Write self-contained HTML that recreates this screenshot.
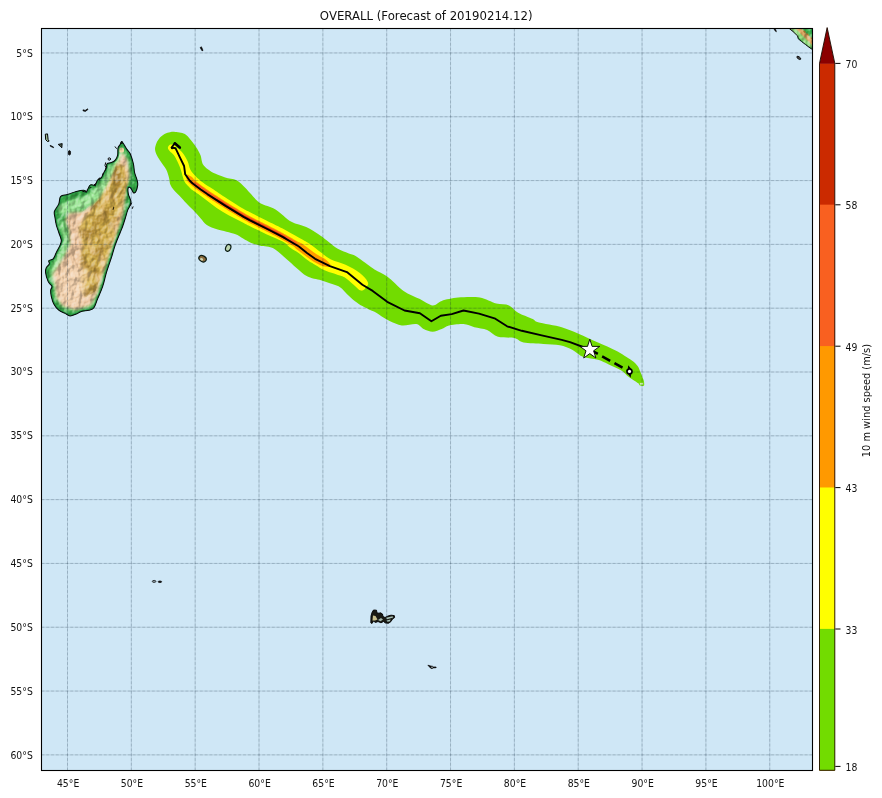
<!DOCTYPE html>
<html lang="en"><head><meta charset="utf-8"><title>OVERALL (Forecast of 20190214.12)</title>
<style>
html,body{margin:0;padding:0;background:#fff;}
body{width:882px;height:798px;overflow:hidden;}
svg{display:block;}
text{font-family:"DejaVu Sans","Liberation Sans",sans-serif;fill:#111;}
.tk{font-size:9.72px;}
.tt{font-size:11.73px;}
</style></head><body>
<svg width="882" height="798" viewBox="0 0 882 798">
<defs>
<clipPath id="axclip"><rect x="41.5" y="28.5" width="771.0" height="742.0"/></clipPath>
<clipPath id="madaclip"><path d="M122.1,141.9C123.2,142.6 125.2,146.8 126.5,148.8C127.8,150.8 129.0,151.3 130.2,153.8C131.3,156.3 132.7,160.7 133.4,163.8C134.1,166.9 134.0,169.9 134.6,172.6C135.2,175.3 136.6,178.0 137.1,180.1C137.6,182.2 137.9,183.2 137.7,185.1C137.5,187.0 136.6,190.1 135.9,191.4C135.2,192.7 134.2,193.2 133.4,192.7C132.6,192.2 131.8,189.2 130.9,188.3C130.1,187.5 128.7,186.7 128.3,187.6C127.9,188.5 127.9,191.6 128.3,193.9C128.7,196.2 130.7,199.3 130.9,201.4C131.1,203.5 130.1,204.9 129.6,206.4C129.1,207.9 128.4,208.2 127.7,210.2C127.0,212.2 126.0,215.9 125.2,218.5C124.4,221.1 123.6,223.7 122.8,226.0C122.0,228.3 121.5,229.3 120.2,232.5C118.9,235.7 116.7,240.9 115.2,245.1C113.7,249.3 112.9,253.0 111.4,257.6C109.9,262.2 107.9,267.8 106.4,272.6C105.0,277.4 104.2,282.0 102.7,286.4C101.2,290.8 99.1,295.3 97.6,298.9C96.1,302.4 95.4,305.8 93.9,307.7C92.5,309.6 91.0,309.6 88.9,310.2C86.8,310.8 83.5,310.9 81.4,311.5C79.3,312.1 78.2,313.3 76.3,314.0C74.4,314.7 72.0,316.0 70.1,315.9C68.2,315.8 67.0,314.3 65.1,313.4C63.2,312.4 60.7,311.8 58.8,310.2C56.9,308.6 55.0,306.3 53.8,304.0C52.5,301.7 51.8,298.7 51.3,296.4C50.8,294.1 50.6,291.9 50.7,290.2C50.8,288.5 52.3,287.9 51.9,286.4C51.5,284.9 49.1,283.7 48.1,281.4C47.1,279.1 45.9,274.9 45.6,272.6C45.3,270.3 45.7,269.1 46.3,267.6C46.9,266.2 49.0,265.0 49.4,263.9C49.8,262.8 48.2,261.5 48.8,260.7C49.4,259.9 52.0,260.2 53.2,258.8C54.5,257.4 55.1,254.9 56.3,252.6C57.4,250.3 59.3,247.2 60.1,245.1C60.9,243.0 61.5,242.2 61.3,240.1C61.1,238.0 59.6,235.0 58.8,232.5C58.0,230.0 56.9,227.5 56.3,225.0C55.7,222.5 55.3,219.9 55.0,217.7C54.7,215.4 53.8,213.8 54.4,211.5C55.0,209.2 57.8,206.4 58.8,203.9C59.8,201.4 59.2,198.0 60.7,196.4C62.2,194.8 65.0,195.3 67.6,194.5C70.2,193.7 73.6,192.1 76.3,191.4C79.0,190.7 82.2,190.1 83.9,190.2C85.6,190.3 85.4,192.8 86.4,192.0C87.4,191.2 88.6,186.2 90.1,185.1C91.5,183.9 93.8,185.9 95.1,185.1C96.3,184.3 96.5,181.3 97.6,180.1C98.6,178.8 100.4,178.8 101.4,177.6C102.5,176.3 103.1,174.3 103.9,172.6C104.7,170.9 105.9,169.1 106.4,167.6C106.9,166.1 106.2,164.6 107.0,163.8C107.8,163.0 110.0,163.2 111.4,162.6C112.8,162.0 114.2,161.3 115.2,160.1C116.2,158.9 117.1,157.3 117.6,155.3C118.1,153.3 117.6,149.9 118.0,148.2C118.4,146.4 119.3,145.9 120.0,144.8C120.7,143.8 121.0,141.2 122.1,141.9Z"/></clipPath>
<filter id="b1" x="-20%" y="-20%" width="140%" height="140%"><feGaussianBlur stdDeviation="1.6"/></filter>
<filter id="b2" x="-20%" y="-20%" width="140%" height="140%"><feGaussianBlur stdDeviation="3"/></filter>
<filter id="b05" x="-20%" y="-20%" width="140%" height="140%"><feGaussianBlur stdDeviation="0.7"/></filter>
<filter id="tex" x="0" y="0" width="100%" height="100%">
<feTurbulence type="fractalNoise" baseFrequency="0.22" numOctaves="3" seed="7" result="n"/>
<feColorMatrix in="n" type="matrix" values="0 0 0 0 0.25  0 0 0 0 0.15  0 0 0 0 0.02  1.6 0 0 0 -0.75"/>
</filter>
<filter id="mottle" x="0" y="0" width="100%" height="100%" color-interpolation-filters="sRGB">
<feTurbulence type="fractalNoise" baseFrequency="0.09 0.07" numOctaves="2" seed="5" result="n"/>
<feColorMatrix in="n" type="matrix" values="0 0 0 0 0.55  0 0 0 0 0.38  0 0 0 0 0.12  0 3.2 0 0 -1.45" result="c"/>
<feComposite in="c" in2="SourceAlpha" operator="in"/>
</filter>
<filter id="mottle2" x="0" y="0" width="100%" height="100%" color-interpolation-filters="sRGB">
<feTurbulence type="fractalNoise" baseFrequency="0.08 0.06" numOctaves="2" seed="23" result="n"/>
<feColorMatrix in="n" type="matrix" values="0 0 0 0 0.95  0 0 0 0 0.78  0 0 0 0 0.62  3.0 0 0 0 -1.45" result="c"/>
<feComposite in="c" in2="SourceAlpha" operator="in"/>
</filter>
<filter id="relief" x="0" y="0" width="100%" height="100%" color-interpolation-filters="sRGB">
<feTurbulence type="fractalNoise" baseFrequency="0.15 0.10" numOctaves="4" seed="11" result="n"/>
<feDiffuseLighting in="n" surfaceScale="2.2" diffuseConstant="1" lighting-color="#ffffff" result="lit"><feDistantLight azimuth="225" elevation="45"/></feDiffuseLighting>
<feComponentTransfer in="lit" result="lit2"><feFuncR type="table" tableValues="0.35 0.35 0.36 0.37 0.39 0.42 0.46 0.50 0.58 0.66 0.74"/><feFuncG type="table" tableValues="0.35 0.35 0.36 0.37 0.39 0.42 0.46 0.50 0.58 0.66 0.74"/><feFuncB type="table" tableValues="0.35 0.35 0.36 0.37 0.39 0.42 0.46 0.50 0.58 0.66 0.74"/></feComponentTransfer>
<feBlend in="lit2" in2="SourceGraphic" mode="hard-light" result="m"/>
<feComposite in="m" in2="SourceAlpha" operator="in"/>
</filter>
</defs>
<rect x="0" y="0" width="882" height="798" fill="#ffffff"/>
<rect x="41.5" y="28.5" width="771.0" height="742.0" fill="#cfe7f6"/>
<g clip-path="url(#axclip)">

<g id="madagascar">
<path d="M122.1,141.9C123.2,142.6 125.2,146.8 126.5,148.8C127.8,150.8 129.0,151.3 130.2,153.8C131.3,156.3 132.7,160.7 133.4,163.8C134.1,166.9 134.0,169.9 134.6,172.6C135.2,175.3 136.6,178.0 137.1,180.1C137.6,182.2 137.9,183.2 137.7,185.1C137.5,187.0 136.6,190.1 135.9,191.4C135.2,192.7 134.2,193.2 133.4,192.7C132.6,192.2 131.8,189.2 130.9,188.3C130.1,187.5 128.7,186.7 128.3,187.6C127.9,188.5 127.9,191.6 128.3,193.9C128.7,196.2 130.7,199.3 130.9,201.4C131.1,203.5 130.1,204.9 129.6,206.4C129.1,207.9 128.4,208.2 127.7,210.2C127.0,212.2 126.0,215.9 125.2,218.5C124.4,221.1 123.6,223.7 122.8,226.0C122.0,228.3 121.5,229.3 120.2,232.5C118.9,235.7 116.7,240.9 115.2,245.1C113.7,249.3 112.9,253.0 111.4,257.6C109.9,262.2 107.9,267.8 106.4,272.6C105.0,277.4 104.2,282.0 102.7,286.4C101.2,290.8 99.1,295.3 97.6,298.9C96.1,302.4 95.4,305.8 93.9,307.7C92.5,309.6 91.0,309.6 88.9,310.2C86.8,310.8 83.5,310.9 81.4,311.5C79.3,312.1 78.2,313.3 76.3,314.0C74.4,314.7 72.0,316.0 70.1,315.9C68.2,315.8 67.0,314.3 65.1,313.4C63.2,312.4 60.7,311.8 58.8,310.2C56.9,308.6 55.0,306.3 53.8,304.0C52.5,301.7 51.8,298.7 51.3,296.4C50.8,294.1 50.6,291.9 50.7,290.2C50.8,288.5 52.3,287.9 51.9,286.4C51.5,284.9 49.1,283.7 48.1,281.4C47.1,279.1 45.9,274.9 45.6,272.6C45.3,270.3 45.7,269.1 46.3,267.6C46.9,266.2 49.0,265.0 49.4,263.9C49.8,262.8 48.2,261.5 48.8,260.7C49.4,259.9 52.0,260.2 53.2,258.8C54.5,257.4 55.1,254.9 56.3,252.6C57.4,250.3 59.3,247.2 60.1,245.1C60.9,243.0 61.5,242.2 61.3,240.1C61.1,238.0 59.6,235.0 58.8,232.5C58.0,230.0 56.9,227.5 56.3,225.0C55.7,222.5 55.3,219.9 55.0,217.7C54.7,215.4 53.8,213.8 54.4,211.5C55.0,209.2 57.8,206.4 58.8,203.9C59.8,201.4 59.2,198.0 60.7,196.4C62.2,194.8 65.0,195.3 67.6,194.5C70.2,193.7 73.6,192.1 76.3,191.4C79.0,190.7 82.2,190.1 83.9,190.2C85.6,190.3 85.4,192.8 86.4,192.0C87.4,191.2 88.6,186.2 90.1,185.1C91.5,183.9 93.8,185.9 95.1,185.1C96.3,184.3 96.5,181.3 97.6,180.1C98.6,178.8 100.4,178.8 101.4,177.6C102.5,176.3 103.1,174.3 103.9,172.6C104.7,170.9 105.9,169.1 106.4,167.6C106.9,166.1 106.2,164.6 107.0,163.8C107.8,163.0 110.0,163.2 111.4,162.6C112.8,162.0 114.2,161.3 115.2,160.1C116.2,158.9 117.1,157.3 117.6,155.3C118.1,153.3 117.6,149.9 118.0,148.2C118.4,146.4 119.3,145.9 120.0,144.8C120.7,143.8 121.0,141.2 122.1,141.9Z" fill="#3fae4c"/>
<g clip-path="url(#madaclip)">
<g filter="url(#relief)">
<rect x="40" y="135" width="105" height="190" fill="#38aa48"/>
<path d="M57,206 L70,200 L86,196 L100,184 L110,168 L117,156 L121,147 L125,156 L116,176 L104,194 L90,206 L74,212 L62,214 L60,226 L64,240 L60,252 L54,262 L50,272 L54,286 L56,298 L64,308 L78,310 L92,306 L96,298 L88,302 L70,304 L60,296 L58,282 L56,272 L60,262 L66,250 L68,238 L64,224Z" fill="#98e492" filter="url(#b1)"/>
<path d="M68,213 L84,211 L99,200 L110,184 L117,166 L122,152 L127.8,160 L130,176 L126.8,186 L125.2,198 L123.5,214 L117.5,232 L110.5,252 L102.5,276 L97.5,294 L90.5,305.5 L75,310 L62.5,306 L56.5,297 L55.5,285 L52.5,275 L57.5,266 L64,256 L69.5,244 L68.5,230 L65,220Z" fill="#ecc6a0" filter="url(#b1)"/>
<path d="M88,212 L101,197 L110,181 L117,163 L125.5,167 L127.5,183 L123.5,198 L120.5,216 L114.5,236 L108.5,254 L101.5,274 L95.5,291 L86,297 L79,290 L80,268 L82,246 L79,228Z" fill="#d8b652" filter="url(#b1)"/>
<path d="M100,212 L110,192 L117,174 L121,182 L116,204 L110,230 L102,256 L96,272 L92,256 L96,232Z" fill="#b98d2c" filter="url(#b2)" opacity="0.25"/>
<path d="M88,212 L101,197 L110,181 L117,163 L125.5,167 L127.5,183 L123.5,198 L120.5,216 L114.5,236 L108.5,254 L101.5,274 L95.5,291 L86,297 L79,290 L80,268 L82,246 L79,228Z" fill="#000" filter="url(#mottle)" opacity="0.55"/>
<path d="M80,214 L101,197 L110,181 L117,163 L125.5,167 L127.5,183 L123.5,198 L120.5,216 L114.5,236 L108.5,254 L101.5,274 L95.5,291 L86,300 L72,300 L70,268 L74,246 L72,228Z" fill="#000" filter="url(#mottle2)" opacity="0.7"/>
<path d="M58,272 L72,262 L82,270 L86,290 L80,303 L66,304 L58,292Z" fill="#f3d2ae" filter="url(#b2)" opacity="0.9"/>
<circle cx="121.5" cy="150" r="2.6" fill="#efd6a0" filter="url(#b05)"/>
</g>
<path d="M122.1,141.9C123.2,142.6 125.2,146.8 126.5,148.8C127.8,150.8 129.0,151.3 130.2,153.8C131.3,156.3 132.7,160.7 133.4,163.8C134.1,166.9 134.0,169.9 134.6,172.6C135.2,175.3 136.6,178.0 137.1,180.1C137.6,182.2 137.9,183.2 137.7,185.1C137.5,187.0 136.6,190.1 135.9,191.4C135.2,192.7 134.2,193.2 133.4,192.7C132.6,192.2 131.8,189.2 130.9,188.3C130.1,187.5 128.7,186.7 128.3,187.6C127.9,188.5 127.9,191.6 128.3,193.9C128.7,196.2 130.7,199.3 130.9,201.4C131.1,203.5 130.1,204.9 129.6,206.4C129.1,207.9 128.4,208.2 127.7,210.2C127.0,212.2 126.0,215.9 125.2,218.5C124.4,221.1 123.6,223.7 122.8,226.0C122.0,228.3 121.5,229.3 120.2,232.5C118.9,235.7 116.7,240.9 115.2,245.1C113.7,249.3 112.9,253.0 111.4,257.6C109.9,262.2 107.9,267.8 106.4,272.6C105.0,277.4 104.2,282.0 102.7,286.4C101.2,290.8 99.1,295.3 97.6,298.9C96.1,302.4 95.4,305.8 93.9,307.7C92.5,309.6 91.0,309.6 88.9,310.2C86.8,310.8 83.5,310.9 81.4,311.5C79.3,312.1 78.2,313.3 76.3,314.0C74.4,314.7 72.0,316.0 70.1,315.9C68.2,315.8 67.0,314.3 65.1,313.4C63.2,312.4 60.7,311.8 58.8,310.2C56.9,308.6 55.0,306.3 53.8,304.0C52.5,301.7 51.8,298.7 51.3,296.4C50.8,294.1 50.6,291.9 50.7,290.2C50.8,288.5 52.3,287.9 51.9,286.4C51.5,284.9 49.1,283.7 48.1,281.4C47.1,279.1 45.9,274.9 45.6,272.6C45.3,270.3 45.7,269.1 46.3,267.6C46.9,266.2 49.0,265.0 49.4,263.9C49.8,262.8 48.2,261.5 48.8,260.7C49.4,259.9 52.0,260.2 53.2,258.8C54.5,257.4 55.1,254.9 56.3,252.6C57.4,250.3 59.3,247.2 60.1,245.1C60.9,243.0 61.5,242.2 61.3,240.1C61.1,238.0 59.6,235.0 58.8,232.5C58.0,230.0 56.9,227.5 56.3,225.0C55.7,222.5 55.3,219.9 55.0,217.7C54.7,215.4 53.8,213.8 54.4,211.5C55.0,209.2 57.8,206.4 58.8,203.9C59.8,201.4 59.2,198.0 60.7,196.4C62.2,194.8 65.0,195.3 67.6,194.5C70.2,193.7 73.6,192.1 76.3,191.4C79.0,190.7 82.2,190.1 83.9,190.2C85.6,190.3 85.4,192.8 86.4,192.0C87.4,191.2 88.6,186.2 90.1,185.1C91.5,183.9 93.8,185.9 95.1,185.1C96.3,184.3 96.5,181.3 97.6,180.1C98.6,178.8 100.4,178.8 101.4,177.6C102.5,176.3 103.1,174.3 103.9,172.6C104.7,170.9 105.9,169.1 106.4,167.6C106.9,166.1 106.2,164.6 107.0,163.8C107.8,163.0 110.0,163.2 111.4,162.6C112.8,162.0 114.2,161.3 115.2,160.1C116.2,158.9 117.1,157.3 117.6,155.3C118.1,153.3 117.6,149.9 118.0,148.2C118.4,146.4 119.3,145.9 120.0,144.8C120.7,143.8 121.0,141.2 122.1,141.9Z" fill="none" stroke="#239a44" stroke-width="2.8" filter="url(#b05)" opacity="0.9"/>
</g>
<path d="M122.1,141.9C123.2,142.6 125.2,146.8 126.5,148.8C127.8,150.8 129.0,151.3 130.2,153.8C131.3,156.3 132.7,160.7 133.4,163.8C134.1,166.9 134.0,169.9 134.6,172.6C135.2,175.3 136.6,178.0 137.1,180.1C137.6,182.2 137.9,183.2 137.7,185.1C137.5,187.0 136.6,190.1 135.9,191.4C135.2,192.7 134.2,193.2 133.4,192.7C132.6,192.2 131.8,189.2 130.9,188.3C130.1,187.5 128.7,186.7 128.3,187.6C127.9,188.5 127.9,191.6 128.3,193.9C128.7,196.2 130.7,199.3 130.9,201.4C131.1,203.5 130.1,204.9 129.6,206.4C129.1,207.9 128.4,208.2 127.7,210.2C127.0,212.2 126.0,215.9 125.2,218.5C124.4,221.1 123.6,223.7 122.8,226.0C122.0,228.3 121.5,229.3 120.2,232.5C118.9,235.7 116.7,240.9 115.2,245.1C113.7,249.3 112.9,253.0 111.4,257.6C109.9,262.2 107.9,267.8 106.4,272.6C105.0,277.4 104.2,282.0 102.7,286.4C101.2,290.8 99.1,295.3 97.6,298.9C96.1,302.4 95.4,305.8 93.9,307.7C92.5,309.6 91.0,309.6 88.9,310.2C86.8,310.8 83.5,310.9 81.4,311.5C79.3,312.1 78.2,313.3 76.3,314.0C74.4,314.7 72.0,316.0 70.1,315.9C68.2,315.8 67.0,314.3 65.1,313.4C63.2,312.4 60.7,311.8 58.8,310.2C56.9,308.6 55.0,306.3 53.8,304.0C52.5,301.7 51.8,298.7 51.3,296.4C50.8,294.1 50.6,291.9 50.7,290.2C50.8,288.5 52.3,287.9 51.9,286.4C51.5,284.9 49.1,283.7 48.1,281.4C47.1,279.1 45.9,274.9 45.6,272.6C45.3,270.3 45.7,269.1 46.3,267.6C46.9,266.2 49.0,265.0 49.4,263.9C49.8,262.8 48.2,261.5 48.8,260.7C49.4,259.9 52.0,260.2 53.2,258.8C54.5,257.4 55.1,254.9 56.3,252.6C57.4,250.3 59.3,247.2 60.1,245.1C60.9,243.0 61.5,242.2 61.3,240.1C61.1,238.0 59.6,235.0 58.8,232.5C58.0,230.0 56.9,227.5 56.3,225.0C55.7,222.5 55.3,219.9 55.0,217.7C54.7,215.4 53.8,213.8 54.4,211.5C55.0,209.2 57.8,206.4 58.8,203.9C59.8,201.4 59.2,198.0 60.7,196.4C62.2,194.8 65.0,195.3 67.6,194.5C70.2,193.7 73.6,192.1 76.3,191.4C79.0,190.7 82.2,190.1 83.9,190.2C85.6,190.3 85.4,192.8 86.4,192.0C87.4,191.2 88.6,186.2 90.1,185.1C91.5,183.9 93.8,185.9 95.1,185.1C96.3,184.3 96.5,181.3 97.6,180.1C98.6,178.8 100.4,178.8 101.4,177.6C102.5,176.3 103.1,174.3 103.9,172.6C104.7,170.9 105.9,169.1 106.4,167.6C106.9,166.1 106.2,164.6 107.0,163.8C107.8,163.0 110.0,163.2 111.4,162.6C112.8,162.0 114.2,161.3 115.2,160.1C116.2,158.9 117.1,157.3 117.6,155.3C118.1,153.3 117.6,149.9 118.0,148.2C118.4,146.4 119.3,145.9 120.0,144.8C120.7,143.8 121.0,141.2 122.1,141.9Z" fill="none" stroke="#0a0a0a" stroke-width="1.05" stroke-linejoin="round"/>
<path d="M112.5,209.5 l1.2,-3 l0.6,0.4 l-1,3z" fill="#000"/>
<g fill="none" stroke="#0a0a0a" stroke-width="1" stroke-linecap="round" stroke-linejoin="round"><circle cx="109.3" cy="159" r="1.2"/><path d="M115.2,146.8 l1.2,1.6 M105.6,162.8 l-0.6,2.6 l0.9,2.2 l-0.4,2.6 M103.2,173.2 l-0.8,2.2 M99.6,177.8 l-1.2,1.6 l1.4,0.6 M95.6,183.6 l-1.6,1.4 l1.6,0.8 M91,187.6 l-1.4,0.4 M86,190.6 l-1.6,1.2 l-1.8,-0.6 M122,141.6 l0.8,1.6 l-1.6,0.2z M131.6,203 l-1,2.4 M133,206.8 l-0.6,1.6"/></g>
</g>
<g id="islands" fill="#111" stroke="#000" stroke-width="0.7" stroke-linejoin="round">
<path d="M45.3,134.2 l2.2,-0.3 l0.6,5.6 l1,1.6 l-1.6,0.4 l-1.8,-1.8z" fill="#9ab890" stroke-width="1.0"/>
<path d="M50.2,145.3 l3.2,1.6 l0.2,0.8 l-3.2,-1.4z"/>
<path d="M58.2,144.4 l4,-0.8 l-0.4,4.2 l-1.4,-1.4z" fill="#4a5a4a" stroke-width="0.9"/>
<ellipse cx="69.4" cy="152.8" rx="1.2" ry="2.3"/>
<path d="M83,109.8 l2.2,0.6 l2.4,-1.6 l0.3,0.8 l-2.6,1.8 l-2.3,-0.6z"/>
<path d="M200.2,47.6 l1.2,-0.8 l1.6,3.6 l-1,0.4z"/>
<ellipse cx="302.7" cy="240.6" rx="1.0" ry="0.6"/>
<ellipse cx="202.55" cy="258.7" rx="3.9" ry="2.9" fill="#8a6a3c" stroke="#0c1c14" stroke-width="1.2" transform="rotate(28 202.55 258.7)"/>
<ellipse cx="201.6" cy="259.3" rx="1.6" ry="1.2" fill="#cfd8b8" stroke="none" transform="rotate(28 201.6 259.3)"/>
<ellipse cx="228.2" cy="247.9" rx="2.5" ry="3.5" fill="#bcd6b0" stroke="#0c1c14" stroke-width="1.2" transform="rotate(22 228.2 247.9)"/>
<ellipse cx="154.1" cy="581.4" rx="1.8" ry="1.0" fill="#8fa0a8"/>
<ellipse cx="159.9" cy="581.8" rx="1.8" ry="0.8"/>
<path d="M427.9,665.2 l3,0.9 q1.6,-0.2 2.6,0.9 l2.6,0 l0,0.7 l-3,0.2 q-1.2,1 -2.4,0.3z"/>
<circle cx="432" cy="667.3" r="0.8" fill="#b8c4c8" stroke="none"/>
<path d="M370.8,622.8 L371,616 L372,612.5 L373.5,610 L376.5,610.2 L377,613 L379,613.2 L380.5,612.8 L382.5,614 L383,616.5 L385,617.5 L388,616 L391,615.2 L394.3,615.6 L394.6,617.6 L392.5,619 L391,621.5 L388.5,623.3 L385.5,623 L383.5,621.5 L381,622.8 L378,621.5 L375.5,622.5 L373.5,621 L372,623.5Z" fill="#1a1a14" stroke-width="0.9"/>
<path d="M372.5,620.5 L373,615.5 L375.5,616 L377.5,619.5 L375,620.5Z" fill="#c9c08c" stroke="none"/>
<path d="M378,620 L381,618 L383,619.5 L380.5,621.3Z" fill="#9fb3a8" stroke="none"/>
<path d="M386,617.8 L392.5,616.3 L393.3,617.4 L387,619.2Z M386.5,620.4 L390.5,619.6 L390,621.3 L387.5,621.8Z" fill="#a9c2b8" stroke="none"/>
</g>
<g id="sumatra">
<clipPath id="sumclip"><path d="M789.3,28 L793,31.5 L797.6,35.9 L798.2,38.7 L801.5,41.5 L805.6,44.6 L809,47.2 L813,50 L813,28Z"/></clipPath>
<g clip-path="url(#sumclip)"><g filter="url(#relief)"><rect x="785" y="26" width="30" height="28" fill="#3fb24e"/><path d="M792,28 L798,33 L804,39 L812,46" stroke="#8fd878" stroke-width="5" fill="none" filter="url(#b05)"/><path d="M797,27 L802,32 L808,38 L814,44" stroke="#d8a55e" stroke-width="4.2" fill="none" filter="url(#b05)"/><path d="M800,28 L806,33 L813,40" stroke="#a9792f" stroke-width="1.4" stroke-dasharray="2.5 2" fill="none"/><path d="M804,27 L814,35 L814,27Z" fill="#37b552"/></g></g>
<path d="M789.3,28.6 L793,31.5 L797.6,35.9 L798.2,38.7 L801.5,41.5 L805.6,44.6 L809,47.2 L812.5,49.6" fill="none" stroke="#0a0a0a" stroke-width="1"/>
<ellipse cx="798.8" cy="57.9" rx="2.3" ry="1.1" fill="#444" stroke="#000" stroke-width="0.8" transform="rotate(35 798.8 57.9)"/>
<path d="M774,29 l1.8,0.6 l0.6,2.2 l-1.4,-1z" fill="#111" stroke="#000" stroke-width="0.6"/>
</g>
<g id="swath">
<path d="M155.0,149.0C155.0,147.3 155.8,144.7 156.5,143.0C157.2,141.3 158.7,138.9 160.0,137.5C161.3,136.1 163.5,134.6 165.0,133.8C166.5,133.0 168.5,132.5 170.0,132.2C171.5,131.9 173.3,131.8 175.0,131.9C176.7,132.0 179.3,132.3 181.0,132.8C182.7,133.3 184.5,133.6 186.2,135.0C187.9,136.4 190.8,139.8 192.4,141.9C194.1,144.0 196.0,146.7 197.2,148.8C198.4,150.9 199.9,153.4 200.7,155.7C201.5,158.0 201.6,161.8 202.7,163.9C203.8,166.0 206.4,168.0 208.2,169.5C210.0,171.0 212.4,172.4 215.0,173.6C217.6,174.8 222.0,176.6 225.2,177.6C228.4,178.6 233.5,178.8 236.5,180.3C239.5,181.8 243.2,185.8 245.2,187.7C247.2,189.6 247.7,190.7 250.0,193.0C252.3,195.3 256.6,200.9 260.4,203.3C264.2,205.7 270.5,206.4 275.1,209.2C279.8,212.0 286.7,219.1 291.4,221.8C296.1,224.5 301.8,224.9 306.2,227.0C310.6,229.1 316.3,232.7 321.0,235.9C325.7,239.1 332.4,245.5 337.3,248.4C342.2,251.3 350.2,253.5 353.6,255.1C357.0,256.7 356.9,256.9 360.0,259.1C363.1,261.3 370.4,266.9 374.5,269.5C378.6,272.1 382.8,273.3 387.2,276.5C391.6,279.7 398.7,287.5 403.6,290.9C408.5,294.3 415.5,296.8 419.9,299.0C424.2,301.2 429.3,305.1 432.6,305.4C435.9,305.7 437.9,302.1 441.7,300.9C445.5,299.7 452.4,298.1 458.1,297.6C463.8,297.1 474.2,296.7 479.9,297.6C485.6,298.5 491.8,302.4 496.2,303.6C500.6,304.8 505.7,304.0 509.0,305.4C512.3,306.8 514.5,310.7 518.1,312.7C521.7,314.7 529.7,317.6 532.7,319.0C535.7,320.4 533.8,321.1 538.1,322.3C542.5,323.5 555.7,325.5 561.7,327.2C567.7,328.9 572.6,331.2 578.0,333.5C583.4,335.8 592.3,340.0 598.0,342.6C603.7,345.2 611.1,348.1 616.1,350.8C621.1,353.5 628.3,358.0 631.5,360.3C634.7,362.6 636.3,364.3 637.6,366.0C638.9,367.7 639.5,369.9 640.2,371.5C640.9,373.1 641.6,375.1 642.2,376.6C642.8,378.1 643.6,379.9 643.9,381.3C644.2,382.7 644.4,385.0 644.0,385.6C643.6,386.2 641.8,385.9 641.0,385.6C640.2,385.3 639.9,384.3 638.6,383.4C637.3,382.5 634.2,380.5 632.5,379.4C630.8,378.3 629.0,377.1 627.5,375.9C626.0,374.7 624.8,372.7 622.5,371.2C620.2,369.7 616.2,367.9 612.5,366.2C608.8,364.5 602.4,361.2 598.0,359.8C593.6,358.4 587.2,358.6 583.4,357.1C579.6,355.6 576.1,351.7 572.6,349.9C569.1,348.1 564.3,346.2 559.9,345.3C555.5,344.4 548.9,344.5 543.5,344.1C538.1,343.7 528.0,343.5 523.6,342.6C519.2,341.7 518.3,339.0 514.5,338.1C510.7,337.2 502.1,338.0 498.0,336.8C493.9,335.6 490.6,331.3 487.1,329.9C483.6,328.5 477.9,328.1 474.4,327.2C470.9,326.3 467.3,324.4 463.5,324.1C459.7,323.8 452.3,324.7 449.0,325.4C445.7,326.1 444.2,328.1 441.7,329.0C439.2,329.9 435.3,331.7 432.6,331.7C429.9,331.7 426.0,330.1 423.6,329.0C421.2,327.9 419.6,324.6 416.3,324.1C413.0,323.6 405.9,325.9 401.8,325.4C397.7,324.9 393.2,322.8 389.1,320.8C385.0,318.8 377.5,313.5 374.5,311.8C371.5,310.1 370.7,310.3 368.9,309.4C367.1,308.5 364.5,307.3 362.4,306.1C360.3,304.9 357.3,303.0 355.0,301.2C352.7,299.4 349.1,296.0 346.9,293.9C344.7,291.8 342.6,288.9 340.4,287.4C338.2,285.9 335.1,285.2 332.2,284.1C329.3,283.0 324.9,281.4 321.0,280.2C317.1,279.0 311.3,278.9 306.2,275.8C301.1,272.7 291.9,263.6 287.0,259.5C282.1,255.4 277.7,250.5 273.7,248.4C269.7,246.3 263.7,246.6 260.3,245.8C256.9,245.0 253.8,244.2 251.2,243.1C248.6,242.0 245.5,240.0 243.1,238.6C240.7,237.2 238.7,235.4 234.9,234.0C231.1,232.6 221.9,230.8 217.7,229.5C213.5,228.2 209.4,226.7 206.8,225.0C204.2,223.3 202.3,220.1 200.5,218.2C198.7,216.2 196.9,214.0 195.0,212.0C193.1,210.0 190.1,207.1 188.0,205.0C185.9,202.9 183.4,199.9 181.3,197.7C179.2,195.4 175.5,192.0 173.8,190.0C172.2,188.0 171.0,186.4 170.3,184.6C169.6,182.8 169.6,180.0 169.0,177.7C168.4,175.4 167.5,172.1 166.2,169.5C164.8,166.9 161.5,162.8 160.0,160.5C158.5,158.2 157.2,156.2 156.5,154.5C155.8,152.8 155.0,150.7 155.0,149.0Z" fill="#72dc00"/>
<path d="M639.6,382.6 h3.8 v2.4 h-3.8z" fill="#dff3cf" stroke="#72dc00" stroke-width="0.8"/>
<path d="M167.9,148.1C167.8,147.0 168.4,146.2 169.0,145.5C169.6,144.8 170.0,144.7 171.0,144.6C172.0,144.5 172.8,144.1 174.0,144.8C175.2,145.5 175.5,146.5 177.2,148.1C178.9,149.7 180.6,150.3 182.7,152.9C184.8,155.5 186.1,157.9 187.6,161.2C189.1,164.5 188.9,166.7 190.3,169.5C191.7,172.3 192.8,173.1 194.5,175.0C196.2,176.9 196.5,177.3 198.6,179.1C200.7,180.9 202.0,182.1 204.8,184.0C207.6,185.9 208.8,186.5 212.4,188.8C216.0,191.1 216.4,191.7 222.6,195.7C228.8,199.7 237.8,205.5 243.3,208.8C248.8,212.1 245.4,209.9 250.0,212.2C254.6,214.5 259.8,217.1 266.3,220.4C272.8,223.7 276.1,225.1 282.6,228.5C289.1,231.9 293.2,234.5 298.6,237.6C304.0,240.7 305.0,240.8 309.5,243.8C314.0,246.8 316.7,249.4 321.0,252.5C325.3,255.6 326.1,257.0 331.0,259.5C335.9,262.0 339.9,262.1 345.6,264.8C351.3,267.5 355.1,269.4 359.5,272.8C363.9,276.2 366.2,278.9 367.6,281.7C369.0,284.5 367.6,285.2 366.3,287.0C365.0,288.8 363.5,291.1 361.0,290.6C358.5,290.1 356.9,287.4 353.6,284.7C350.3,282.0 347.9,279.4 344.5,277.3C341.1,275.2 340.4,275.7 336.7,274.4C333.0,273.1 330.2,272.7 325.8,270.8C321.4,268.9 318.6,266.9 314.9,264.7C311.2,262.5 310.7,262.3 307.4,260.0C304.1,257.7 301.9,255.4 298.6,253.0C295.3,250.6 293.9,250.4 290.7,248.1C287.5,245.8 287.5,244.4 282.6,241.6C277.7,238.8 272.8,237.3 266.3,234.2C259.8,231.1 254.6,228.6 250.0,226.3C245.4,224.0 248.8,225.7 243.3,222.8C237.8,219.9 230.9,217.0 222.6,211.8C214.3,206.6 207.9,201.1 201.9,196.7C195.9,192.3 195.0,192.0 192.4,190.0C189.8,188.0 190.4,188.3 188.9,186.7C187.4,185.1 186.0,184.0 184.8,181.9C183.6,179.8 183.5,178.9 182.7,176.4C181.9,173.9 181.7,172.3 180.7,169.5C179.7,166.7 179.3,165.5 177.9,162.6C176.5,159.7 175.5,157.3 173.8,155.0C172.1,152.7 170.8,152.3 169.6,150.9C168.4,149.5 168.0,149.2 167.9,148.1Z" fill="#ffff00"/>
<path d="M187.7,174.6 L189.2,175.4 L190.6,176.3 L191.9,177.1 L192.9,178.1 L193.9,179.2 L195.0,180.2 L196.2,181.3 L197.5,182.4 L198.8,183.4 L200.1,184.4 L201.4,185.4 L202.8,186.4 L204.1,187.3 L205.4,188.3 L206.7,189.2 L208.0,190.1 L209.3,191.0 L210.6,191.9 L211.9,192.7 L213.2,193.6 L214.5,194.5 L215.8,195.3 L217.1,196.1 L218.4,197.0 L219.7,197.8 L221.0,198.7 L222.2,199.5 L223.5,200.3 L224.8,201.2 L226.1,202.0 L227.4,202.8 L228.7,203.6 L230.0,204.4 L231.3,205.2 L232.5,206.0 L233.8,206.8 L235.1,207.5 L236.4,208.3 L237.7,209.1 L239.0,209.9 L240.3,210.7 L241.6,211.5 L243.0,212.3 L244.3,213.1 L245.7,213.9 L247.1,214.7 L248.6,215.4 L250.0,216.2 L251.4,217.0 L252.9,217.7 L254.3,218.5 L255.7,219.2 L257.0,219.9 L258.4,220.6 L259.8,221.2 L261.1,221.9 L262.5,222.6 L263.8,223.3 L265.2,223.9 L266.6,224.6 L267.9,225.3 L269.3,226.0 L270.7,226.7 L272.0,227.4 L273.4,228.1 L274.7,228.8 L276.1,229.5 L277.5,230.2 L278.8,230.9 L280.2,231.6 L281.6,232.4 L283.0,233.1 L284.3,233.9 L285.7,234.6 L287.1,235.4 L288.5,236.2 L289.8,237.0 L291.2,237.8 L292.6,238.6 L294.0,239.4 L295.3,240.3 L296.7,241.1 L298.1,242.0 L299.5,242.9 L300.9,243.9 L302.3,244.9 L303.7,245.9 L305.1,246.9 L306.5,247.9 L307.8,249.0 L309.1,250.0 L310.1,251.5 L311.1,253.0 L311.8,254.7 L310.5,256.6 L308.8,256.2 L307.1,255.5 L305.5,254.8 L304.1,253.8 L302.8,252.8 L301.4,251.8 L300.1,250.8 L298.8,249.8 L297.5,248.9 L296.1,248.0 L294.8,247.1 L293.5,246.3 L292.2,245.5 L290.8,244.7 L289.5,243.9 L288.1,243.1 L286.8,242.3 L285.4,241.5 L284.1,240.7 L282.7,240.0 L281.4,239.2 L280.0,238.5 L278.7,237.7 L277.4,237.0 L276.0,236.3 L274.7,235.6 L273.3,234.9 L271.9,234.2 L270.6,233.5 L269.2,232.8 L267.9,232.1 L266.5,231.4 L265.2,230.8 L263.8,230.1 L262.5,229.4 L261.1,228.7 L259.8,228.0 L258.4,227.4 L257.0,226.7 L255.7,226.0 L254.3,225.3 L252.9,224.6 L251.5,223.9 L250.0,223.2 L248.6,222.4 L247.1,221.6 L245.6,220.8 L244.1,220.0 L242.7,219.2 L241.3,218.3 L239.9,217.5 L238.5,216.7 L237.2,215.9 L235.8,215.1 L234.5,214.3 L233.3,213.5 L232.0,212.7 L230.7,212.0 L229.4,211.2 L228.1,210.4 L226.8,209.6 L225.5,208.8 L224.2,208.0 L222.9,207.1 L221.6,206.3 L220.2,205.5 L218.9,204.6 L217.6,203.8 L216.3,202.9 L215.0,202.1 L213.7,201.3 L212.4,200.4 L211.1,199.6 L209.8,198.7 L208.5,197.8 L207.2,196.9 L205.9,196.1 L204.5,195.1 L203.2,194.2 L201.9,193.3 L200.5,192.3 L199.2,191.3 L197.8,190.3 L196.4,189.3 L195.0,188.2 L193.6,187.1 L192.2,185.9 L190.9,184.7 L189.6,183.5 L188.3,182.2 L187.3,180.7 L186.5,179.1 L186.0,177.5 L185.8,175.7Z" fill="#ff9900"/>
<path d="M292.8,241.4 L294.7,241.4 L296.4,241.7 L298.1,242.1 L299.7,242.6 L301.4,243.2 L302.8,244.2 L304.2,245.2 L305.6,246.3 L307.0,247.3 L308.3,248.3 L309.6,249.3 L311.0,250.3 L312.3,251.3 L313.6,252.2 L314.8,253.1 L316.1,253.9 L317.4,254.7 L318.7,255.5 L319.9,256.2 L321.2,256.9 L322.5,257.6 L323.8,258.2 L325.1,259.0 L326.2,260.0 L327.4,261.1 L328.5,262.2 L329.6,263.4 L330.7,264.8 L329.7,267.0 L328.0,267.0 L326.4,266.8 L324.8,266.5 L323.2,266.2 L321.7,265.8 L320.3,265.2 L318.9,264.5 L317.5,263.8 L316.1,263.0 L314.7,262.2 L313.3,261.4 L311.9,260.5 L310.5,259.6 L309.1,258.6 L307.7,257.6 L306.3,256.6 L305.0,255.6 L303.6,254.5 L302.2,253.5 L300.9,252.5 L299.6,251.5 L298.3,250.5 L297.0,249.6 L295.8,248.4 L294.7,247.3 L293.6,246.1 L292.5,244.8 L291.6,243.4Z" fill="#ff9900"/>
<path d="M193.3,182.1 L195.1,182.6 L196.8,183.2 L198.2,184.1 L199.5,185.1 L200.9,186.1 L202.2,187.1 L203.6,188.1 L204.9,189.0 L206.2,190.0 L207.5,190.9 L208.8,191.8 L210.1,192.6 L211.4,193.5 L212.7,194.4 L214.0,195.2 L215.3,196.1 L216.6,196.9 L217.9,197.7 L219.2,198.6 L220.5,199.4 L221.8,200.3 L223.1,201.1 L224.3,201.9 L225.6,202.7 L226.9,203.5 L228.2,204.4 L229.5,205.2 L230.8,205.9 L232.1,206.7 L233.4,207.5 L234.7,208.3 L236.0,209.1 L237.2,209.9 L238.5,210.7 L239.8,211.4 L241.2,212.2 L242.5,213.0 L243.9,213.8 L245.3,214.6 L246.7,215.4 L248.1,216.2 L249.6,217.0 L251.0,217.8 L252.4,218.5 L253.9,219.3 L255.2,220.0 L256.6,220.7 L258.0,221.4 L259.4,222.0 L260.7,222.7 L262.1,223.4 L263.4,224.1 L264.8,224.7 L266.2,225.4 L267.5,226.1 L268.9,226.8 L270.2,227.5 L271.6,228.2 L273.0,228.9 L274.3,229.6 L275.7,230.3 L277.1,231.0 L278.4,231.7 L279.8,232.4 L281.2,233.2 L282.5,233.9 L283.9,234.7 L285.3,235.4 L286.7,236.2 L288.0,237.0 L289.4,237.8 L290.8,238.6 L292.1,239.4 L293.5,240.2 L294.9,241.0 L296.1,242.1 L297.2,243.4 L298.1,245.0 L297.3,246.2 L295.8,245.5 L294.4,244.8 L293.0,244.1 L291.6,243.3 L290.3,242.5 L288.9,241.7 L287.6,240.9 L286.2,240.1 L284.9,239.3 L283.5,238.6 L282.2,237.8 L280.8,237.1 L279.5,236.3 L278.1,235.6 L276.7,234.9 L275.4,234.2 L274.0,233.5 L272.7,232.8 L271.3,232.1 L270.0,231.4 L268.6,230.7 L267.3,230.0 L265.9,229.3 L264.5,228.6 L263.2,228.0 L261.8,227.3 L260.5,226.6 L259.1,225.9 L257.7,225.3 L256.4,224.6 L255.0,223.9 L253.6,223.2 L252.2,222.5 L250.8,221.7 L249.3,221.0 L247.9,220.2 L246.4,219.4 L244.9,218.6 L243.5,217.8 L242.1,217.0 L240.7,216.1 L239.3,215.3 L238.0,214.5 L236.7,213.7 L235.4,213.0 L234.1,212.2 L232.8,211.4 L231.5,210.6 L230.2,209.8 L228.9,209.0 L227.6,208.2 L226.3,207.4 L225.0,206.6 L223.7,205.8 L222.4,204.9 L221.1,204.1 L219.8,203.3 L218.5,202.4 L217.2,201.6 L215.9,200.8 L214.6,199.9 L213.3,199.1 L212.0,198.2 L210.7,197.4 L209.4,196.5 L208.1,195.6 L206.8,194.7 L205.4,193.8 L204.1,192.9 L202.8,192.0 L201.4,191.0 L200.1,190.0 L198.7,189.0 L197.4,188.0 L196.0,186.9 L194.7,185.8 L193.5,184.5 L192.4,183.2Z" fill="#f96020"/>
<path d="M215.4,198.7 L217.0,199.1 L218.4,199.7 L219.8,200.4 L221.1,201.3 L222.4,202.1 L223.7,202.9 L225.0,203.7 L226.3,204.6 L227.6,205.4 L228.9,206.2 L230.2,207.0 L231.5,207.8 L232.7,208.5 L234.0,209.3 L235.3,210.1 L236.6,210.9 L237.9,211.7 L239.2,212.5 L240.6,213.3 L241.9,214.1 L243.3,214.9 L244.7,215.7 L246.1,216.5 L247.5,217.3 L249.0,218.1 L250.5,218.9 L251.9,219.6 L253.3,220.3 L254.7,221.0 L256.1,221.7 L257.5,222.4 L258.8,223.1 L260.2,223.8 L261.5,224.5 L262.9,225.1 L264.3,225.8 L265.6,226.5 L267.0,227.2 L268.3,227.9 L269.7,228.6 L271.1,229.3 L272.4,230.0 L273.8,230.7 L275.1,231.4 L276.5,232.1 L277.9,232.8 L279.2,233.5 L280.6,234.2 L282.0,235.0 L283.3,235.7 L284.6,236.6 L285.8,237.6 L287.0,238.8 L286.5,239.6 L285.0,239.0 L283.6,238.4 L282.2,237.7 L280.9,237.0 L279.5,236.2 L278.2,235.5 L276.8,234.8 L275.4,234.1 L274.1,233.4 L272.7,232.7 L271.4,232.0 L270.0,231.3 L268.7,230.6 L267.3,229.9 L265.9,229.2 L264.6,228.6 L263.2,227.9 L261.9,227.2 L260.5,226.5 L259.2,225.8 L257.8,225.2 L256.4,224.5 L255.1,223.8 L253.7,223.1 L252.3,222.4 L250.8,221.6 L249.4,220.9 L247.9,220.1 L246.4,219.3 L245.0,218.5 L243.5,217.7 L242.1,216.9 L240.7,216.1 L239.4,215.2 L238.0,214.5 L236.7,213.7 L235.4,212.9 L234.1,212.1 L232.8,211.3 L231.5,210.5 L230.3,209.7 L229.0,208.9 L227.7,208.1 L226.4,207.3 L225.1,206.5 L223.8,205.7 L222.5,204.9 L221.2,204.0 L219.9,203.2 L218.6,202.4 L217.3,201.4 L216.1,200.5 L214.9,199.4Z" fill="#c92a00"/>
</g>
<g stroke="#10283a" stroke-opacity="0.17" stroke-width="0.8" fill="none">
<path d="M67.50,28.5 V770.5"/>
<path d="M131.34,28.5 V770.5"/>
<path d="M195.18,28.5 V770.5"/>
<path d="M259.02,28.5 V770.5"/>
<path d="M322.86,28.5 V770.5"/>
<path d="M386.70,28.5 V770.5"/>
<path d="M450.54,28.5 V770.5"/>
<path d="M514.38,28.5 V770.5"/>
<path d="M578.22,28.5 V770.5"/>
<path d="M642.06,28.5 V770.5"/>
<path d="M705.90,28.5 V770.5"/>
<path d="M769.74,28.5 V770.5"/>
<path d="M41.5,52.95 H812.5"/>
<path d="M41.5,116.76 H812.5"/>
<path d="M41.5,180.57 H812.5"/>
<path d="M41.5,244.38 H812.5"/>
<path d="M41.5,308.19 H812.5"/>
<path d="M41.5,372.00 H812.5"/>
<path d="M41.5,435.81 H812.5"/>
<path d="M41.5,499.62 H812.5"/>
<path d="M41.5,563.43 H812.5"/>
<path d="M41.5,627.24 H812.5"/>
<path d="M41.5,691.05 H812.5"/>
<path d="M41.5,754.86 H812.5"/>
</g>
<g stroke="#10283a" stroke-opacity="0.22" stroke-width="0.8" stroke-dasharray="2.8 2.0" fill="none">
<path d="M67.50,28.5 V770.5"/>
<path d="M131.34,28.5 V770.5"/>
<path d="M195.18,28.5 V770.5"/>
<path d="M259.02,28.5 V770.5"/>
<path d="M322.86,28.5 V770.5"/>
<path d="M386.70,28.5 V770.5"/>
<path d="M450.54,28.5 V770.5"/>
<path d="M514.38,28.5 V770.5"/>
<path d="M578.22,28.5 V770.5"/>
<path d="M642.06,28.5 V770.5"/>
<path d="M705.90,28.5 V770.5"/>
<path d="M769.74,28.5 V770.5"/>
<path d="M41.5,52.95 H812.5"/>
<path d="M41.5,116.76 H812.5"/>
<path d="M41.5,180.57 H812.5"/>
<path d="M41.5,244.38 H812.5"/>
<path d="M41.5,308.19 H812.5"/>
<path d="M41.5,372.00 H812.5"/>
<path d="M41.5,435.81 H812.5"/>
<path d="M41.5,499.62 H812.5"/>
<path d="M41.5,563.43 H812.5"/>
<path d="M41.5,627.24 H812.5"/>
<path d="M41.5,691.05 H812.5"/>
<path d="M41.5,754.86 H812.5"/>
</g>
<g id="track">
<polyline points="179.6,147.4 174.8,143.3 171.6,147.5 175.5,148.2 180.0,157.7 184.1,166.0 185.2,174.3 189.6,180.5 192.4,183.2 200.7,189.4 207.3,194.1 225.5,205.9 243.6,216.9 250.0,220.4 266.3,228.5 282.6,236.9 298.9,246.5 307.0,253.0 315.1,258.8 329.9,266.2 346.9,272.1 362.4,284.7 372.7,290.9 387.2,301.8 404.5,310.5 419.9,313.2 431.4,321.2 440.8,315.7 451.7,314.1 463.5,310.5 479.0,313.6 495.3,318.7 507.1,326.3 521.8,330.8 541.7,335.4 561.7,339.9 570.0,342.2 589.8,349.5" fill="none" stroke="#000" stroke-width="1.9" stroke-linejoin="round" stroke-linecap="butt"/>
<path d="M179.8,147.6 L174.8,143.3" stroke="#000" stroke-width="2.6" stroke-linecap="round" fill="none"/>
<circle cx="172.2" cy="148" r="1.3" fill="#000"/>
<path d="M589.8,349.5 L629.5,371.5" stroke="#000" stroke-width="2.5" stroke-dasharray="9.2 4.9" fill="none"/>
<circle cx="629.5" cy="371.5" r="3.3" fill="#000"/>
<path d="M628.2,365.2 L631.8,369.5 L630.6,377.8 L627.3,373Z" fill="#000"/>
<circle cx="629.5" cy="371.4" r="1.6" fill="#fff"/>
<polygon points="589.8,339.2 592.1,346.4 599.7,346.4 593.6,350.8 595.9,358.0 589.8,353.6 583.7,358.0 586.0,350.8 579.9,346.4 587.5,346.4" fill="#fff" stroke="#000" stroke-width="0.9" stroke-linejoin="miter"/>
</g>
</g>
<rect x="41.5" y="28.5" width="771.0" height="742.0" fill="none" stroke="#000" stroke-width="1.1"/>
<g class="tk">
<text transform="translate(32.8 56.80) scale(0.955 1)" text-anchor="end">5°S</text>
<text transform="translate(32.8 119.70) scale(0.955 1)" text-anchor="end">10°S</text>
<text transform="translate(32.8 183.75) scale(0.955 1)" text-anchor="end">15°S</text>
<text transform="translate(32.8 248.05) scale(0.955 1)" text-anchor="end">20°S</text>
<text transform="translate(32.8 311.55) scale(0.955 1)" text-anchor="end">25°S</text>
<text transform="translate(32.8 374.60) scale(0.955 1)" text-anchor="end">30°S</text>
<text transform="translate(32.8 438.85) scale(0.955 1)" text-anchor="end">35°S</text>
<text transform="translate(32.8 503.05) scale(0.955 1)" text-anchor="end">40°S</text>
<text transform="translate(32.8 566.95) scale(0.955 1)" text-anchor="end">45°S</text>
<text transform="translate(32.8 630.85) scale(0.955 1)" text-anchor="end">50°S</text>
<text transform="translate(32.8 694.95) scale(0.955 1)" text-anchor="end">55°S</text>
<text transform="translate(32.8 758.75) scale(0.955 1)" text-anchor="end">60°S</text>
<text transform="translate(68.1 787) scale(0.955 1)" text-anchor="middle">45°E</text>
<text transform="translate(131.9 787) scale(0.955 1)" text-anchor="middle">50°E</text>
<text transform="translate(195.8 787) scale(0.955 1)" text-anchor="middle">55°E</text>
<text transform="translate(259.6 787) scale(0.955 1)" text-anchor="middle">60°E</text>
<text transform="translate(323.5 787) scale(0.955 1)" text-anchor="middle">65°E</text>
<text transform="translate(387.3 787) scale(0.955 1)" text-anchor="middle">70°E</text>
<text transform="translate(451.1 787) scale(0.955 1)" text-anchor="middle">75°E</text>
<text transform="translate(515.0 787) scale(0.955 1)" text-anchor="middle">80°E</text>
<text transform="translate(578.8 787) scale(0.955 1)" text-anchor="middle">85°E</text>
<text transform="translate(642.7 787) scale(0.955 1)" text-anchor="middle">90°E</text>
<text transform="translate(706.5 787) scale(0.955 1)" text-anchor="middle">95°E</text>
<text transform="translate(770.3 787) scale(0.955 1)" text-anchor="middle">100°E</text>
</g>
<text class="tt" x="426.2" y="19.7" text-anchor="middle">OVERALL (Forecast of 20190214.12)</text>
<g id="colorbar">
<rect x="819.5" y="63.25" width="15.30" height="707.05" fill="#cb2a00"/>
<rect x="819.5" y="204.66" width="15.30" height="565.64" fill="#f96020"/>
<rect x="819.5" y="346.07" width="15.30" height="424.23" fill="#ff9900"/>
<rect x="819.5" y="487.48" width="15.30" height="282.82" fill="#ffff00"/>
<rect x="819.5" y="628.89" width="15.30" height="141.41" fill="#72dc00"/>
<path d="M819.5,63.65 L827.15,27.6 L834.8,63.65Z" fill="#8b0000"/>
<path d="M819.5,770.3 V63.25 L827.15,27.6 L834.8,63.25 V770.3Z" fill="none" stroke="#1a0a00" stroke-width="0.9" stroke-linejoin="miter"/>
<g class="tk">
<path d="M835.3,63.4 h5.2" stroke="#000" stroke-width="1"/>
<text transform="translate(845.5 67.8) scale(0.955 1)">70</text>
<path d="M835.3,204.8 h5.2" stroke="#000" stroke-width="1"/>
<text transform="translate(845.5 208.7) scale(0.955 1)">58</text>
<path d="M835.3,346.2 h5.2" stroke="#000" stroke-width="1"/>
<text transform="translate(845.5 351.3) scale(0.955 1)">49</text>
<path d="M835.3,487.6 h5.2" stroke="#000" stroke-width="1"/>
<text transform="translate(845.5 491.7) scale(0.955 1)">43</text>
<path d="M835.3,629.0 h5.2" stroke="#000" stroke-width="1"/>
<text transform="translate(845.5 634.0) scale(0.955 1)">33</text>
<path d="M835.3,766.4 h5.2" stroke="#000" stroke-width="1"/>
<text transform="translate(845.5 771.1) scale(0.955 1)">18</text>
<text style="font-size:9.85px" transform="translate(869.8 400.6) rotate(-90)" text-anchor="middle">10 m wind speed (m/s)</text>
</g></g>
</svg>
</body></html>
